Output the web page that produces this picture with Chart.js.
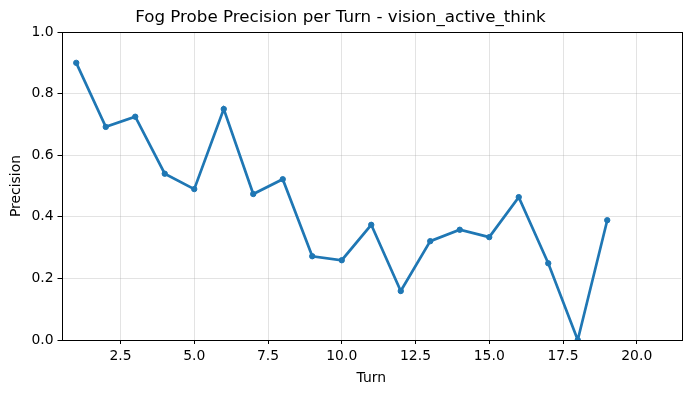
<!DOCTYPE html>
<html>
<head>
<meta charset="utf-8">
<script src="https://cdn.jsdelivr.net/npm/chart.js@4/dist/chart.umd.min.js"></script>
<style>
  body { margin: 0; background: #fff; }
  #wrap { width: 691px; height: 393px; }
</style>
</head>
<body>
<div id="wrap"><canvas id="precisionChart" width="691" height="393"></canvas></div>
<script>
// turn numbers and the probe precision
const turns = [1, 2, 3, 4, 5, 6, 7, 8, 9, 10, 11, 12, 13, 14, 15, 16, 17, 18, 19];
const precision = [0.900, 0.692, 0.725, 0.540, 0.490, 0.750, 0.474, 0.522, 0.272, 0.259,
                   0.374, 0.159, 0.321, 0.358, 0.334, 0.464, 0.249, 0.000, 0.389];
const xTicks = [2.5, 5.0, 7.5, 10.0, 12.5, 15.0, 17.5, 20.0];
const yTicks = [0.0, 0.2, 0.4, 0.6, 0.8, 1.0];

document.addEventListener("DOMContentLoaded", function () {
  const ctx = document.getElementById("precisionChart").getContext("2d");
  const font = "'DejaVu Sans', sans-serif";

  // matplotlib style box around the axes
  const frame = {
    id: "frame",
    afterDatasetsDraw(chart) {
      const a = chart.chartArea;
      const c = chart.ctx;
      c.save();
      c.strokeStyle = "#000";
      c.lineWidth = 1;
      c.strokeRect(Math.round(a.left) + 0.5, Math.round(a.top) + 0.5,
                   Math.round(a.right - a.left), Math.round(a.bottom - a.top));
      c.restore();
    }
  };

  new Chart(ctx, {
    type: "line",
    data: {
      datasets: [{
        data: turns.map((t, i) => ({ x: t, y: precision[i] })),
        borderColor: "#1f77b4",
        backgroundColor: "#1f77b4",
        borderWidth: 2.7,
        pointRadius: 2.7,
        pointHoverRadius: 2.7,
        pointBorderWidth: 1,
        tension: 0,
        clip: 0
      }]
    },
    options: {
      responsive: false,
      animation: false,
      layout: { padding: { left: 0, right: 10, top: 0, bottom: 0 } },
      plugins: {
        legend: { display: false },
        tooltip: { enabled: false },
        title: {
          display: true,
          text: "Fog Probe Precision per Turn - vision_active_think",
          color: "#000",
          font: { family: font, size: 16.7, weight: "normal" },
          padding: { top: 8, bottom: 4 }
        }
      },
      scales: {
        x: {
          type: "linear",
          min: 0.5,
          max: 21.5,
          afterBuildTicks: axis => { axis.ticks = xTicks.map(v => ({ value: v })); },
          afterFit: axis => { axis.height = 53; },
          ticks: {
            color: "#000",
            font: { family: font, size: 13.9 },
            padding: 4,
            maxRotation: 0,
            callback: v => v.toFixed(1)
          },
          grid: { color: "rgba(176,176,176,0.35)", tickColor: "#000", tickLength: 4 },
          border: { display: false },
          title: {
            display: true,
            text: "Turn",
            color: "#000",
            font: { family: font, size: 13.9 },
            padding: { top: 2, bottom: 6 }
          }
        },
        y: {
          min: 0,
          max: 1,
          afterBuildTicks: axis => { axis.ticks = yTicks.map(v => ({ value: v })); },
          afterFit: axis => { axis.width = 61.5; },
          ticks: {
            color: "#000",
            font: { family: font, size: 13.9 },
            padding: 4,
            callback: v => v.toFixed(1)
          },
          grid: { color: "rgba(176,176,176,0.35)", tickColor: "#000", tickLength: 4 },
          border: { display: false },
          title: {
            display: true,
            text: "Precision",
            color: "#000",
            font: { family: font, size: 13.9 },
            padding: { top: 8, bottom: 2 }
          }
        }
      }
    },
    plugins: [frame]
  });
});
</script>
</body>
</html>
